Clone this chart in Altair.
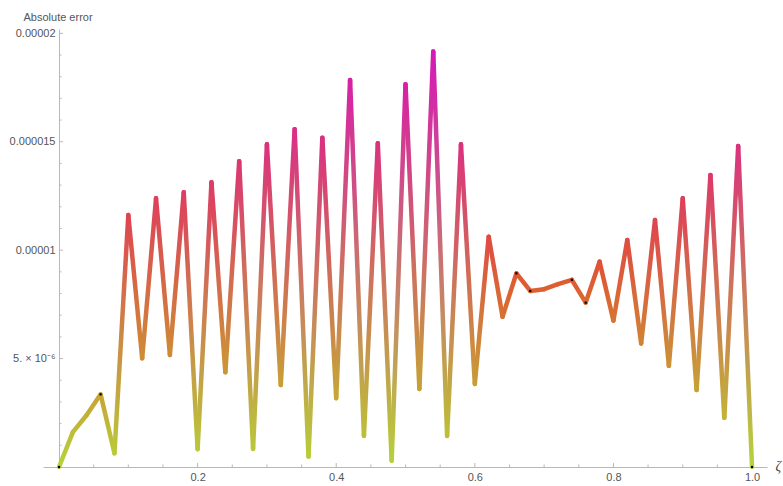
import altair as alt
import pandas as pd

# ---- data ----
zeta = [0.00, 0.02, 0.04, 0.06, 0.08, 0.10, 0.12, 0.14, 0.16, 0.18,
        0.20, 0.22, 0.24, 0.26, 0.28, 0.30, 0.32, 0.34, 0.36, 0.38,
        0.40, 0.42, 0.44, 0.46, 0.48, 0.50, 0.52, 0.54, 0.56, 0.58,
        0.60, 0.62, 0.64, 0.66, 0.68, 0.70, 0.72, 0.74, 0.76, 0.78,
        0.80, 0.82, 0.84, 0.86, 0.88, 0.90, 0.92, 0.94, 0.96, 0.98, 1.00]
abs_error = [0.0, 1.61e-6, 2.40e-6, 3.35e-6, 0.63e-6, 11.62e-6, 5.01e-6, 12.39e-6, 5.17e-6, 12.67e-6,
             0.82e-6, 13.13e-6, 4.37e-6, 14.10e-6, 0.83e-6, 14.88e-6, 3.78e-6, 15.58e-6, 0.48e-6, 15.19e-6,
             3.17e-6, 17.85e-6, 1.43e-6, 14.93e-6, 0.29e-6, 17.65e-6, 3.60e-6, 19.16e-6, 1.43e-6, 14.88e-6,
             3.83e-6, 10.62e-6, 6.93e-6, 8.93e-6, 8.12e-6, 8.20e-6, 8.43e-6, 8.63e-6, 7.58e-6, 9.47e-6,
             6.75e-6, 10.47e-6, 5.70e-6, 11.39e-6, 4.67e-6, 12.39e-6, 3.55e-6, 13.47e-6, 2.27e-6, 14.80e-6, 0.0]

dot_zeta = [0.00, 0.06, 0.66, 0.68, 0.74, 0.76, 1.00]
dot_err = [0.0, 3.35e-6, 8.93e-6, 8.12e-6, 8.63e-6, 7.58e-6, 0.0]

x_major = [0.2, 0.4, 0.6, 0.8, 1.0]
x_minor = [0.05, 0.1, 0.15, 0.25, 0.3, 0.35, 0.45, 0.5, 0.55, 0.65, 0.7, 0.75, 0.85, 0.9, 0.95]
y_major = [5e-6, 1e-5, 1.5e-5, 2e-5]
y_major_labels = ["5. \u00d7 10\u207b\u2076", "0.00001", "0.000015", "0.00002"]
y_minor = [1e-6, 2e-6, 3e-6, 4e-6, 6e-6, 7e-6, 8e-6, 9e-6, 11e-6, 12e-6, 13e-6, 14e-6,
           16e-6, 17e-6, 18e-6, 19e-6]

# ---- styling ----
X_DOMAIN = [-0.0231, 1.0216]
Y_DOMAIN = [0.0, 2.02e-5]
AX = "#b8b8b8"
LBL = "#555555"
FONT = "Liberation Sans"

stop_t = [0.0, 0.48, 1.0]
stop_rgb = [(182, 211, 58), (226, 82, 48), (213, 24, 183)]
vmax = max(abs_error)


def colour(v):
    t = min(max(v / vmax, 0.0), 1.0)
    for k in range(len(stop_t) - 1):
        if t <= stop_t[k + 1]:
            f = (t - stop_t[k]) / (stop_t[k + 1] - stop_t[k])
            c = [round(a + (b - a) * f) for a, b in zip(stop_rgb[k], stop_rgb[k + 1])]
            return "#%02x%02x%02x" % tuple(c)
    return "#%02x%02x%02x" % stop_rgb[-1]


label_expr = " : ".join(
    f"abs(datum.value - {v}) < 1e-10 ? '{l}'" for v, l in zip(y_major, y_major_labels)
) + " : ''"

X_ENC = alt.X(
    "zeta:Q",
    scale=alt.Scale(domain=X_DOMAIN, nice=False, zero=False),
    axis=alt.Axis(
        values=x_major, format=".1f", ticks=False, tickSize=0, grid=False,
        domainColor=AX, domainWidth=1, labelColor=LBL, labelFont=FONT, labelFontSize=11,
        labelPadding=4, title="\u03b6", titleX=732, titleY=3, titleAlign="left",
        titleBaseline="alphabetic", titleFont="Liberation Serif", titleFontStyle="italic",
        titleFontSize=14, titleFontWeight="normal", titleColor="#444444",
    ),
)
Y_ENC = alt.Y(
    "err:Q",
    scale=alt.Scale(domain=Y_DOMAIN, nice=False, zero=True),
    axis=alt.Axis(
        values=y_major, labelExpr=label_expr, ticks=False, tickSize=0, grid=False,
        domainColor=AX, domainWidth=1, labelColor=LBL, labelFont=FONT, labelFontSize=11,
        labelPadding=4, offset=-16, title="Absolute error", titleAngle=0,
        titleX=-36, titleY=-9, titleAlign="left", titleBaseline="alphabetic",
        titleFont=FONT, titleFontSize=11, titleFontWeight="normal", titleColor=LBL,
    ),
)

layers = []

# ticks (drawn inward like the reference)
xt_maj = pd.DataFrame({"zeta": x_major, "err": [0.0] * len(x_major)})
xt_min = pd.DataFrame({"zeta": x_minor, "err": [0.0] * len(x_minor)})
yt_maj = pd.DataFrame({"zeta": [0.0] * len(y_major), "err": y_major})
yt_min = pd.DataFrame({"zeta": [0.0] * len(y_minor), "err": y_minor})
layers.append(alt.Chart(xt_maj).mark_rule(color=AX, strokeWidth=1, y2Offset=-4)
              .encode(x=X_ENC, y=Y_ENC, y2=alt.Y2("err")))
layers.append(alt.Chart(xt_min).mark_rule(color=AX, strokeWidth=1, y2Offset=-2.5)
              .encode(x=X_ENC, y=Y_ENC, y2=alt.Y2("err")))
layers.append(alt.Chart(yt_maj).mark_rule(color=AX, strokeWidth=1, x2Offset=4)
              .encode(x=X_ENC, x2=alt.X2("zeta"), y=Y_ENC))
layers.append(alt.Chart(yt_min).mark_rule(color=AX, strokeWidth=1, x2Offset=2.5)
              .encode(x=X_ENC, x2=alt.X2("zeta"), y=Y_ENC))

# line segments, each with colours interpolated between its vertices
for i in range(len(zeta) - 1):
    a, b = abs_error[i], abs_error[i + 1]
    seg = pd.DataFrame({"zeta": [zeta[i], zeta[i + 1]], "err": [a, b]})
    hi, lo = max(a, b), min(a, b)
    grad = alt.LinearGradient(
        gradient="linear",
        stops=[alt.GradientStop(offset=0, color=colour(hi)),
               alt.GradientStop(offset=1, color=colour(lo))],
        x1=0, x2=0, y1=0, y2=1,
    )
    layers.append(
        alt.Chart(seg).mark_line(stroke=grad, strokeWidth=4.5, strokeCap="round")
        .encode(x=X_ENC, y=Y_ENC)
    )

dots = pd.DataFrame({"zeta": dot_zeta, "err": dot_err})
layers.append(alt.Chart(dots).mark_square(color="black", size=5, opacity=1)
              .encode(x=X_ENC, y=Y_ENC))

chart = alt.layer(*layers).properties(
    width=724, height=438,
    padding={"left": 43, "top": 29, "right": 16, "bottom": 19},
    autosize=alt.AutoSizeParams(type="none"),
    background="white",
).configure_view(stroke=None)

chart.save("out.html", embed_options={"renderer": "svg", "actions": False})
